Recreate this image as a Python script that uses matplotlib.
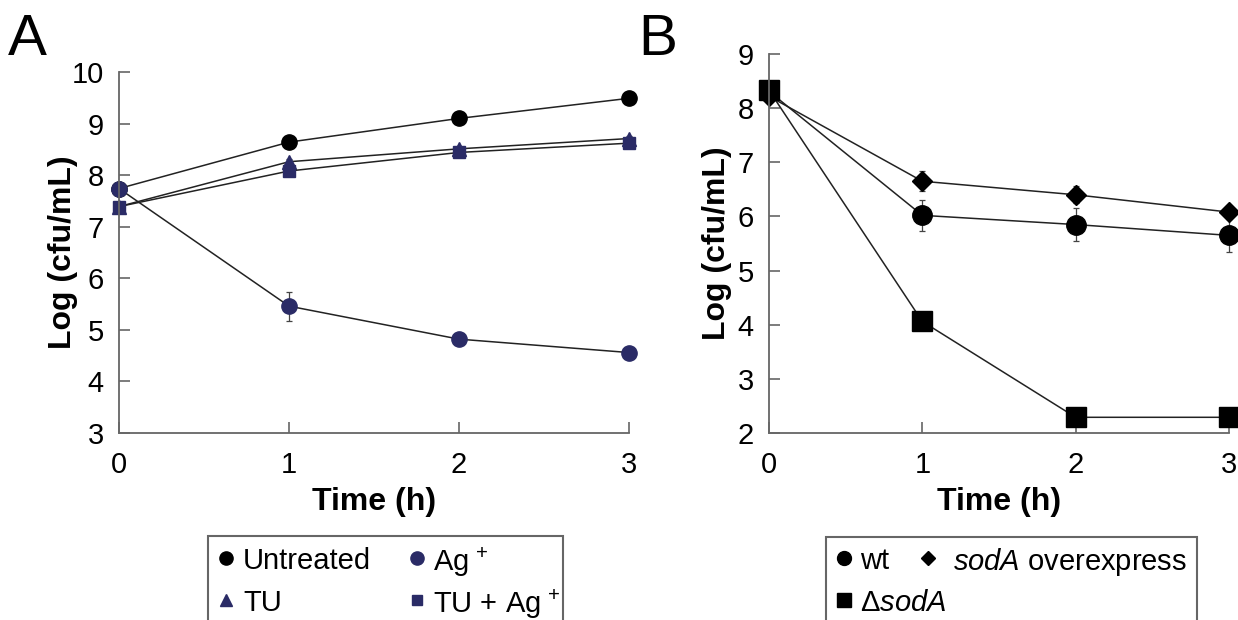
import matplotlib
matplotlib.use("Agg")
import matplotlib.pyplot as plt
from matplotlib.lines import Line2D
from matplotlib.patches import Rectangle

plt.rcParams['font.family'] = ['Liberation Sans', 'DejaVu Sans']
plt.rcParams['mathtext.fontset'] = 'custom'
plt.rcParams['mathtext.rm'] = 'Liberation Sans'
plt.rcParams['mathtext.it'] = 'Liberation Sans:italic'
plt.rcParams['mathtext.bf'] = 'Liberation Sans:bold'

# data
time_h = [0, 1, 2, 3]

# panel A
untreated = [7.74, 8.64, 9.10, 9.49]
untreated_err = [0.0, 0.05, 0.08, 0.04]
ag = [7.74, 5.46, 4.82, 4.56]
ag_err = [0.0, 0.28, 0.05, 0.04]
tu = [7.39, 8.26, 8.51, 8.71]
tu_err = [0.0, 0.06, 0.04, 0.04]
tu_ag = [7.39, 8.08, 8.44, 8.62]
tu_ag_err = [0.0, 0.05, 0.04, 0.04]

# panel B
wt = [8.31, 6.02, 5.85, 5.65]
wt_err = [0.08, 0.28, 0.30, 0.30]
sod_over = [8.22, 6.65, 6.40, 6.08]
sod_over_err = [0.05, 0.18, 0.16, 0.05]
dsod = [8.33, 4.06, 2.29, 2.29]
dsod_err = [0.08, 0.08, 0.02, 0.02]

navy = '#2a2b66'
grey = '#666666'
W, H = 1238, 620


def px(x, y):
    # pixel position (from top-left) -> figure fraction
    return x / W, 1 - y / H


fig = plt.figure(figsize=(W / 100, H / 100), dpi=100)
fig.patch.set_facecolor('white')
axA = fig.add_axes([119/W, 1-433/H, 510/W, 361/H])
axB = fig.add_axes([769/W, 1-433/H, 460/W, 379/H])


def style_axis(ax, ylim, yticks):
    ax.set_xlim(0, 3)
    ax.set_ylim(*ylim)
    ax.set_xticks(time_h)
    ax.set_yticks(yticks)
    for s in ['top', 'right']:
        ax.spines[s].set_visible(False)
    for s in ['left', 'bottom']:
        ax.spines[s].set_color(grey)
        ax.spines[s].set_linewidth(1.3)
    ax.tick_params(direction='in', length=8, width=1.2, color=grey,
                   labelsize=21)
    ax.tick_params(axis='x', pad=13)
    ax.tick_params(axis='y', pad=11)
    ax.set_xlabel('Time (h)', fontsize=23, fontweight='bold', labelpad=6)
    ax.set_ylabel('Log (cfu/mL)', fontsize=23, fontweight='bold')


def series(ax, y, err, marker, color, ms):
    h = ax.errorbar(time_h, y, yerr=err, marker=marker, color='#222222',
                    mfc=color, mec=color, ms=ms, lw=1.1, elinewidth=0.9,
                    ecolor='#444444', capsize=2.5, capthick=0.9, clip_on=False)
    for art in h.get_children():
        art.set_clip_on(False)
    return h


style_axis(axA, (3, 10), range(3, 11))
series(axA, untreated, untreated_err, 'o', 'black', 11)
series(axA, ag, ag_err, 'o', navy, 11)
series(axA, tu, tu_err, '^', navy, 10)
series(axA, tu_ag, tu_ag_err, 's', navy, 9)
axA.yaxis.set_label_coords(-0.08, 0.5)

style_axis(axB, (2, 9), range(2, 10))
series(axB, wt, wt_err, 'o', 'black', 14)
series(axB, sod_over, sod_over_err, 'D', 'black', 10)
series(axB, dsod, dsod_err, 's', 'black', 14)
axB.yaxis.set_label_coords(-0.08, 0.5)


def legend_box(x0, x1, y0, entries):
    fig.add_artist(Rectangle(px(x0, 640), (x1 - x0) / W, (640 - y0) / H,
                             transform=fig.transFigure, fill=False,
                             ec=grey, lw=1.5, clip_on=False))
    for mx, tx, y, marker, color, ms, label in entries:
        fx, fy = px(mx, y)
        fig.add_artist(Line2D([fx], [fy], transform=fig.transFigure, ls='none',
                              marker=marker, mfc=color, mec=color, ms=ms))
        fig.text(*px(tx, y), label, fontsize=21, ha='left', va='center_baseline')


legend_box(208, 563, 536, [
    (226, 243, 558, 'o', 'black', 9.5, 'Untreated'),
    (417, 433, 558, 'o', navy, 9.5, 'Ag$^{\\,+}$'),
    (226, 243, 600, '^', navy, 9, 'TU'),
    (417, 433, 600, 's', navy, 7.5, 'TU + Ag$^{\\,+}$'),
])

legend_box(826, 1197, 537, [
    (844, 860, 558, 'o', 'black', 10, 'wt'),
    (928, 953, 558, 'D', 'black', 7.5, r'$\mathit{sodA}$ overexpress'),
    (844, 860, 600, 's', 'black', 10, r'$\Delta\mathit{sodA}$'),
])

fig.text(*px(8, 40), 'A', fontsize=42, va='center', ha='left')
fig.text(*px(638, 40), 'B', fontsize=42, va='center', ha='left')

fig.savefig('out.png', dpi=100)
